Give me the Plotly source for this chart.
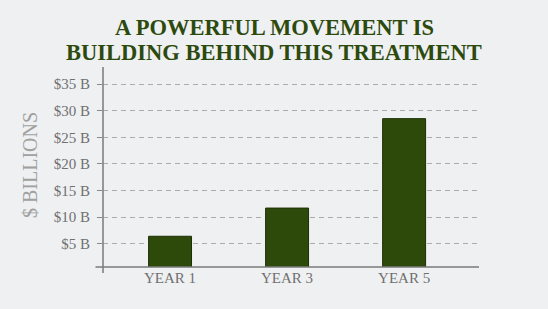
import plotly.graph_objects as go

categories = ["YEAR 1", "YEAR 3", "YEAR 5"]
values = [6.4, 11.7, 28.5]
tick_vals = [5, 10, 15, 20, 25, 30, 35]
tick_text = ["$5 B", "$10 B", "$15 B", "$20 B", "$25 B", "$30 B", "$35 B"]
title_lines = ["A POWERFUL MOVEMENT IS", "BUILDING BEHIND THIS TREATMENT"]

W, H = 548, 309
ml, mr, mt, mb = 103, 69, 67, 42

fig = go.Figure()
fig.add_trace(go.Bar(
    x=list(range(len(categories))), y=values, width=0.367,
    marker=dict(color="#2e4a0a", line=dict(color="#1d3005", width=1)),
))

serif = "Liberation Serif"
fig.update_layout(
    width=W, height=H,
    margin=dict(l=ml, r=mr, t=mt, b=mb),
    paper_bgcolor="#eff0f2", plot_bgcolor="#eff0f2",
    showlegend=False,
    font=dict(family=serif, color="#707070", size=15),
    xaxis=dict(
        range=[-0.573, 2.64], tickmode="array",
        tickvals=list(range(len(categories))), ticktext=categories,
        showgrid=False, zeroline=False, showline=False, ticks="",
        tickfont=dict(family=serif, size=15, color="#707070"),
        fixedrange=True,
    ),
    yaxis=dict(
        range=[0.63, 38.2], tickmode="array",
        tickvals=tick_vals, ticktext=tick_text,
        showgrid=True, gridcolor="#ababab", griddash="5px,4px", gridwidth=1,
        zeroline=False, showline=False,
        ticks="outside", ticklen=5, tickcolor="#888888", tickwidth=1,
        tickfont=dict(family=serif, size=15, color="#707070"),
        ticklabelstandoff=4,
        fixedrange=True,
    ),
    shapes=[
        dict(type="line", xref="paper", yref="paper", x0=-0.02, x1=1, y0=0, y1=0,
             line=dict(color="#7a7a7a", width=1.5)),
        dict(type="line", xref="paper", yref="paper", x0=0, x1=0, y0=-0.03, y1=1,
             line=dict(color="#7a7a7a", width=1.5)),
    ],
    annotations=[
        dict(text=title_lines[0], xref="paper", yref="paper", x=(W/2 - ml)/(W-ml-mr),
             y=1 + (mt - 27)/(H-mt-mb), xanchor="center", yanchor="middle",
             showarrow=False, font=dict(family=serif, size=22.5, color="#2c4a0d", weight="bold")),
        dict(text=title_lines[1], xref="paper", yref="paper", x=(W/2 - ml)/(W-ml-mr),
             y=1 + (mt - 52.5)/(H-mt-mb), xanchor="center", yanchor="middle",
             showarrow=False, font=dict(family=serif, size=22.5, color="#2c4a0d", weight="bold")),
        dict(text="$ BILLIONS", xref="paper", yref="paper", x=(30 - ml)/(W-ml-mr),
             y=1 - (165 - mt)/(H-mt-mb), xanchor="center", yanchor="middle", textangle=-90,
             showarrow=False, font=dict(family=serif, size=20, color="#a0a0a0")),
    ],
)

fig.write_html("out.html")
